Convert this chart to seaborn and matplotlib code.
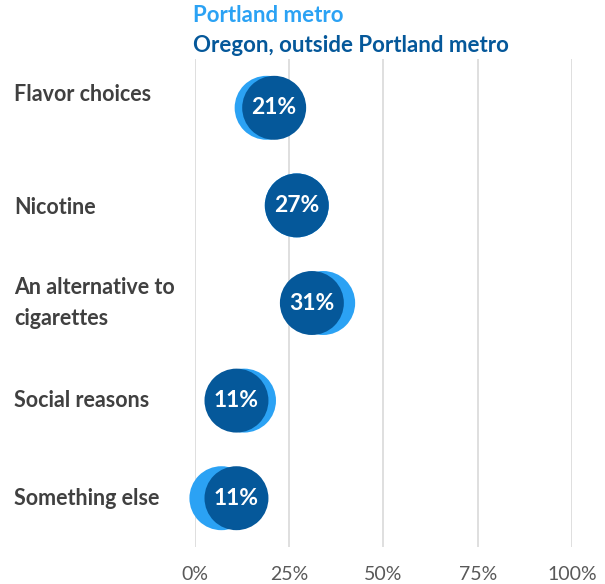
import matplotlib
matplotlib.use("Agg")
import matplotlib.pyplot as plt
import matplotlib.transforms as mtransforms
import seaborn as sns
import pandas as pd

categories = ["Flavor choices", "Nicotine", "An alternative to\ncigarettes",
              "Social reasons", "Something else"]
portland_metro = [19, 27, 34, 13, 7]
outside_portland = [21, 27, 31, 11, 11]
series_names = ["Portland metro", "Oregon, outside Portland metro"]
x_ticks = [0, 25, 50, 75, 100]
x_tick_labels = ["0%", "25%", "50%", "75%", "100%"]

light_blue = "#2BA2F4"
dark_blue = "#05589A"
label_grey = "#404040"

sns.set_theme(style="white")
plt.rcParams["font.family"] = ["Lato", "DejaVu Sans"]

df = pd.DataFrame({
    "category": categories * 2,
    "value": portland_metro + outside_portland,
    "series": [series_names[0]] * len(categories) + [series_names[1]] * len(categories),
})
df["pos"] = list(range(len(categories))) * 2

fig = plt.figure(figsize=(6.05, 5.84), dpi=100)
ax = fig.add_axes([195 / 605, 1 - 547 / 584, (572 - 195) / 605, (547 - 59) / 584])

sns.scatterplot(data=df, x="value", y="pos", hue="series",
                palette={series_names[0]: light_blue, series_names[1]: dark_blue},
                s=2120, linewidth=0, legend=False, ax=ax, zorder=3, clip_on=False)

# value labels for the outside-Portland series
for i, v in enumerate(outside_portland):
    ax.text(v, i, f"{v}%", ha="center", va="center", color="white",
            fontsize=16.5, fontweight="bold", zorder=4)

ax.set_xlim(0, 100)
ax.set_ylim(len(categories) - 0.5, -0.5)
ax.set_xticks(x_ticks)
ax.set_xticklabels(x_tick_labels, fontsize=14, color="#595959")
ax.tick_params(axis="x", length=0, pad=14)
ax.set_yticks([])
ax.set_xlabel("")
ax.set_ylabel("")
for x in x_ticks:
    ax.axvline(x, color="#D9D9D9", linewidth=1.2, zorder=1)
for sp in ax.spines.values():
    sp.set_visible(False)

# category labels, left aligned at the figure edge
label_trans = mtransforms.blended_transform_factory(fig.transFigure, ax.transData)
label_offsets = [-0.14, 0.02, 0, 0, 0]
for i, (cat, off) in enumerate(zip(categories, label_offsets)):
    ax.text(14 / 605, i + off, cat, transform=label_trans,
            ha="left", va="center", fontsize=15.5, fontweight="bold", color=label_grey,
            linespacing=1.55)

# series legend as coloured text
fig.text(193 / 605, 1 - 16 / 584, series_names[0], ha="left", va="center",
         fontsize=16, fontweight="bold", color=light_blue)
fig.text(193 / 605, 1 - 46 / 584, series_names[1], ha="left", va="center",
         fontsize=16, fontweight="bold", color=dark_blue)

fig.savefig("out.png", dpi=100, facecolor="white")
